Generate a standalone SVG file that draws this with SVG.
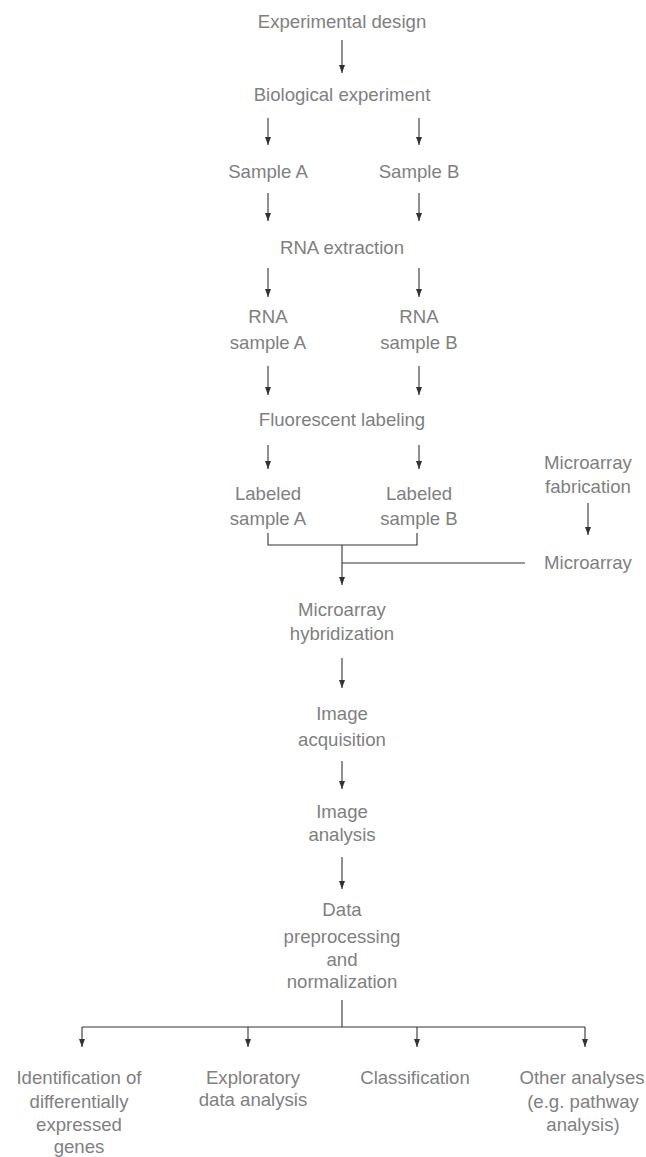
<svg xmlns="http://www.w3.org/2000/svg" width="646" height="1157" viewBox="0 0 646 1157">
<style>
text{font-family:"Liberation Sans",Arial,sans-serif;font-size:18.6px;fill:#808080;text-anchor:middle}
.c{stroke:#333;stroke-width:1.1;fill:none}
.a{marker-end:url(#ah)}
</style>
<defs>
<marker id="ah" markerWidth="8" markerHeight="6" refX="8" refY="3" orient="auto" markerUnits="userSpaceOnUse">
<path d="M0,0 L8,3 L0,6 Z" fill="#333"/>
</marker>
</defs>
<rect width="646" height="1157" fill="#fff"/>
<g id="connectors">
<path class="c a" d="M342,40 V73"/>
<path class="c a" d="M268,118 V145"/>
<path class="c a" d="M419,118 V145"/>
<path class="c a" d="M268,193 V221"/>
<path class="c a" d="M419,193 V221"/>
<path class="c a" d="M268,268 V297"/>
<path class="c a" d="M419,268 V297"/>
<path class="c a" d="M268,366 V395"/>
<path class="c a" d="M419,366 V395"/>
<path class="c a" d="M268,445 V469"/>
<path class="c a" d="M419,445 V469"/>
<path class="c a" d="M588,503 V535"/>
<path class="c" d="M268,533 V545 H417 V533"/>
<path class="c a" d="M342,545 V585"/>
<path class="c" d="M342,563 H525"/>
<path class="c a" d="M342,658 V688"/>
<path class="c a" d="M342,761 V789"/>
<path class="c a" d="M342,857 V889"/>
<path class="c" d="M342,1000 V1027 M82,1027 H585"/>
<path class="c a" d="M82,1027 V1047"/>
<path class="c a" d="M248,1027 V1047"/>
<path class="c a" d="M417,1027 V1047"/>
<path class="c a" d="M585,1027 V1047"/>
</g>
<g id="exp_design"><text x="342" y="28">Experimental design</text></g>
<g id="bio_exp"><text x="342" y="101">Biological experiment</text></g>
<g id="sample_a"><text x="268" y="178">Sample A</text></g>
<g id="sample_b"><text x="419" y="178">Sample B</text></g>
<g id="rna_extraction"><text x="342" y="254">RNA extraction</text></g>
<g id="rna_a"><text x="268" y="323">RNA</text><text x="268" y="349">sample A</text></g>
<g id="rna_b"><text x="419" y="323">RNA</text><text x="419" y="349">sample B</text></g>
<g id="fluor"><text x="342" y="426">Fluorescent labeling</text></g>
<g id="labeled_a"><text x="268" y="500">Labeled</text><text x="268" y="525">sample A</text></g>
<g id="labeled_b"><text x="419" y="500">Labeled</text><text x="419" y="525">sample B</text></g>
<g id="micro_fab"><text x="588" y="469">Microarray</text><text x="588" y="493">fabrication</text></g>
<g id="microarray"><text x="588" y="569">Microarray</text></g>
<g id="hyb"><text x="342" y="616">Microarray</text><text x="342" y="640">hybridization</text></g>
<g id="img_acq"><text x="342" y="720">Image</text><text x="342" y="746">acquisition</text></g>
<g id="img_an"><text x="342" y="818">Image</text><text x="342" y="841">analysis</text></g>
<g id="data_pre"><text x="342" y="916">Data</text><text x="342" y="943">preprocessing</text><text x="342" y="966">and</text><text x="342" y="988">normalization</text></g>
<g id="ident"><text x="79" y="1084">Identification of</text><text x="79" y="1108">differentially</text><text x="79" y="1131">expressed</text><text x="79" y="1153">genes</text></g>
<g id="explor"><text x="253" y="1084">Exploratory</text><text x="253" y="1106">data analysis</text></g>
<g id="classif"><text x="415" y="1084">Classification</text></g>
<g id="other"><text x="582" y="1084">Other analyses</text><text x="583" y="1108">(e.g. pathway</text><text x="583" y="1131">analysis)</text></g>
</svg>
